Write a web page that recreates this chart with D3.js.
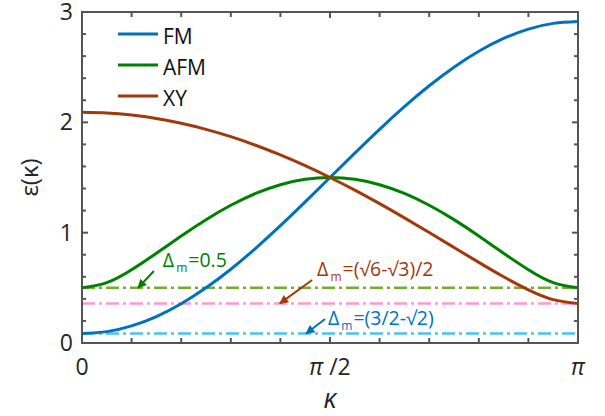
<!DOCTYPE html>
<html>
<head>
<meta charset="utf-8">
<script src="https://cdn.jsdelivr.net/npm/d3@7"></script>
<style>
  html, body { margin: 0; padding: 0; background: #fff; }
  svg { display: block; font-family: "Open Sans", "Noto Sans", sans-serif; }
</style>
</head>
<body>
<svg id="chart" width="605" height="416"></svg>
<script>
// Wave vector κ, sampled in units of π
const kFrac = [0, 0.05, 0.1, 0.15, 0.2, 0.25, 0.3, 0.35, 0.4, 0.45, 0.5,
               0.55, 0.6, 0.65, 0.7, 0.75, 0.8, 0.85, 0.9, 0.95, 1];

// Dispersion ε(κ) for the three phases
const fmValues  = [0.0858, 0.1032, 0.1550, 0.2399, 0.3559, 0.5000, 0.6687, 0.8580, 1.0630, 1.2788, 1.5000,
                   1.7212, 1.9370, 2.1420, 2.3313, 2.5000, 2.6441, 2.7601, 2.8450, 2.8968, 2.9142];
const afmValues = [0.5000, 0.5468, 0.6641, 0.8138, 0.9700, 1.1180, 1.2486, 1.3557, 1.4349, 1.4836, 1.5000,
                   1.4836, 1.4349, 1.3557, 1.2486, 1.1180, 0.9700, 0.8138, 0.6641, 0.5468, 0.5000];
const xyValues  = [2.0908, 2.0845, 2.0658, 2.0347, 1.9915, 1.9365, 1.8700, 1.7925, 1.7046, 1.6068, 1.5000,
                   1.3850, 1.2627, 1.1344, 1.0016, 0.8660, 0.7306, 0.5999, 0.4822, 0.3934, 0.3587];

const seriesNames = ["FM", "AFM", "XY"];

// Gap levels Δm (AFM, XY, FM)
const gapValues = [0.5, 0.3587, 0.0858];

// Tick values
const xTickFrac  = [0, 0.1, 0.2, 0.3, 0.4, 0.5, 0.6, 0.7, 0.8, 0.9, 1];
const xLabelFrac = [0, 0.5, 1];
const xTickLabels = ["0", "π /2", "π"];
const yTicks  = [0, 0.2, 0.4, 0.6, 0.8, 1, 1.2, 1.4, 1.6, 1.8, 2, 2.2, 2.4, 2.6, 2.8, 3];
const yLabels = [0, 1, 2, 3];

const PI = Math.PI;
const svg = d3.select("#chart");
const margin = { left: 82, right: 27, top: 12, bottom: 73 };
const W = 605, H = 416;

const x = d3.scaleLinear().domain([0, PI]).range([margin.left, W - margin.right]);
const y = d3.scaleLinear().domain([0, 3]).range([H - margin.bottom, margin.top]);

const seriesColors = ["#0072BD", "#008000", "#A2390A"];
const gapColors = ["#77AC30", "#FF99CC", "#4DBEEE"];
const axisColor = "#555555";

// Dash-dot reference lines for the gaps
gapValues.forEach((v, i) => {
  svg.append("line")
    .attr("x1", x(0)).attr("x2", x(PI))
    .attr("y1", y(v)).attr("y2", y(v))
    .attr("stroke", gapColors[i])
    .attr("stroke-width", 2.5)
    .attr("stroke-dasharray", "13,4,3,4");
});

// Dispersion curves
const allSeries = [fmValues, afmValues, xyValues];
const line = d3.line()
  .x((d, i) => x(kFrac[i] * PI))
  .y(d => y(d))
  .curve(d3.curveNatural);

allSeries.forEach((vals, i) => {
  svg.append("path")
    .datum(vals)
    .attr("d", line)
    .attr("fill", "none")
    .attr("stroke", seriesColors[i])
    .attr("stroke-width", 3);
});

// Axes box with inward ticks on all four sides
const frame = svg.append("g");
const x0 = x(0), x1 = x(PI), yb = y(0), yt = y(3);
frame.append("rect")
  .attr("x", x0).attr("y", yt)
  .attr("width", x1 - x0).attr("height", yb - yt)
  .attr("fill", "none").attr("stroke", axisColor).attr("stroke-width", 2);

xTickFrac.forEach(f => {
  const len = xLabelFrac.includes(f) ? 6 : 5;
  const px = x(f * PI);
  frame.append("line").attr("x1", px).attr("x2", px).attr("y1", yb).attr("y2", yb - len)
    .attr("stroke", axisColor).attr("stroke-width", 2);
  frame.append("line").attr("x1", px).attr("x2", px).attr("y1", yt).attr("y2", yt + len)
    .attr("stroke", axisColor).attr("stroke-width", 2);
});
yTicks.forEach(t => {
  const len = yLabels.includes(t) ? 6 : 4;
  const py = y(t);
  frame.append("line").attr("x1", x0).attr("x2", x0 + len).attr("y1", py).attr("y2", py)
    .attr("stroke", axisColor).attr("stroke-width", 2);
  frame.append("line").attr("x1", x1).attr("x2", x1 - len).attr("y1", py).attr("y2", py)
    .attr("stroke", axisColor).attr("stroke-width", 2);
});

// Tick labels
svg.append("g").selectAll("text").data(yLabels).join("text")
  .attr("x", x0 - 9).attr("y", d => y(d) + 8)
  .attr("text-anchor", "end")
  .attr("font-size", 23).attr("fill", "#262626")
  .text(d => d);

const xl = svg.append("g").selectAll("text").data(xLabelFrac).join("text")
  .attr("x", d => x(d * PI)).attr("y", yb + 32)
  .attr("text-anchor", "middle")
  .attr("font-size", 23).attr("fill", "#262626");
xl.each(function(d, i) {
  const t = d3.select(this);
  const lab = xTickLabels[i];
  if (lab.startsWith("π")) {
    t.append("tspan").attr("font-style", "italic").text("π");
    if (lab.length > 1) t.append("tspan").text(lab.slice(1));
  } else {
    t.text(lab);
  }
});

// Axis titles
svg.append("text")
  .attr("x", x(PI / 2)).attr("y", H - 8)
  .attr("text-anchor", "middle")
  .attr("font-size", 27).attr("font-style", "italic").attr("fill", "#262626")
  .text("κ");
svg.append("text")
  .attr("transform", `translate(38, ${(yb + yt) / 2}) rotate(-90)`)
  .attr("text-anchor", "middle")
  .attr("font-size", 24).attr("fill", "#262626")
  .text("ε(κ)");

// Legend
const legendY = [34, 65, 96];
seriesNames.forEach((name, i) => {
  svg.append("line")
    .attr("x1", 118).attr("x2", 158)
    .attr("y1", legendY[i]).attr("y2", legendY[i])
    .attr("stroke", seriesColors[i]).attr("stroke-width", 3);
  svg.append("text")
    .attr("x", 163).attr("y", legendY[i] + 10)
    .attr("font-size", 21).attr("fill", "#111")
    .text(name);
});

// Gap annotations with arrows (positions in data units: κ/π, ε)
const annoText  = ["=0.5", "=(√6-√3)/2", "=(3/2-√2)"];
const annoColor = ["#008000", "#A2390A", "#0072BD"];
const annoLabelPos = [[0.163, 0.69], [0.474, 0.607], [0.496, 0.163]];
const annoTail  = [[0.145, 0.653], [0.464, 0.571], [0.490, 0.218]];
const annoTip   = [[0.113, 0.5], [0.399, 0.3587], [0.452, 0.0858]];

const defs = svg.append("defs");
annoColor.forEach((c, i) => {
  defs.append("marker")
    .attr("id", "arrow" + i)
    .attr("viewBox", "0 0 10 10")
    .attr("refX", 9).attr("refY", 5)
    .attr("markerWidth", 5).attr("markerHeight", 4.5)
    .attr("markerUnits", "strokeWidth")
    .attr("orient", "auto")
    .append("path").attr("d", "M0,0 L10,5 L0,10 z").attr("fill", c);
});

annoText.forEach((txt, i) => {
  svg.append("line")
    .attr("x1", x(annoTail[i][0] * PI)).attr("y1", y(annoTail[i][1]))
    .attr("x2", x(annoTip[i][0] * PI)).attr("y2", y(annoTip[i][1]))
    .attr("stroke", annoColor[i]).attr("stroke-width", 2)
    .attr("marker-end", `url(#arrow${i})`);
  const t = svg.append("text")
    .attr("x", x(annoLabelPos[i][0] * PI)).attr("y", y(annoLabelPos[i][1]))
    .attr("font-size", 19.5).attr("fill", annoColor[i]);
  t.append("tspan").text("Δ");
  t.append("tspan").attr("font-size", 12).attr("dx", 2).attr("dy", 5).text("m");
  t.append("tspan").attr("dx", 1).attr("dy", -5).text(txt);
});
</script>
</body>
</html>
